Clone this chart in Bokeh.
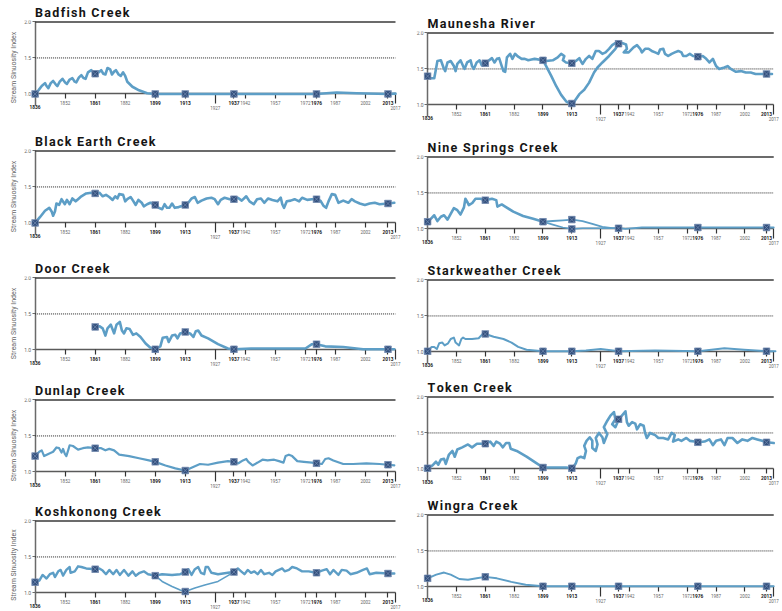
import numpy as np
from bokeh.plotting import figure
from bokeh.models import (Range1d, LinearAxis, FixedTicker, PrintfTickFormatter,
                          CustomJSTickFormatter, Spacer)
from bokeh.layouts import row, column
from bokeh.embed import file_html
from bokeh.resources import INLINE

# ---------------- axis definition (the chart's uneven year axis) ----------------
scale_years = [1836, 1852, 1861, 1882, 1899, 1913, 1927, 1937, 1942, 1957, 1972, 1976, 1987, 2002, 2013, 2017]
scale_steps = [0, 1, 2, 3, 4, 5, 6, 6.62, 7, 8, 9, 9.37, 10, 11, 11.75, 12]
survey_years = [1836, 1861, 1899, 1913, 1937, 1976, 2013]
plain_years = [1852, 1882, 1942, 1957, 1972, 1987, 2002]
low_years = [1927, 2017]
y_ticks = [1.0, 1.5, 2.0]
threshold = 1.5

# ---------------- survey values (1836,1861,1899,1913,1937,1976,2013) ----------------
nan = float("nan")
badfish_vals = [1.00, 1.28, 1.00, 1.00, 1.00, 1.00, 1.00]
blackearth_vals = [1.00, 1.41, 1.25, 1.25, 1.33, 1.33, 1.27]
door_vals = [nan, 1.32, 1.01, 1.25, 1.01, 1.08, 1.01]
dunlap_vals = [1.22, 1.33, 1.14, 1.02, 1.14, 1.12, 1.10]
koshkonong_vals = [1.15, 1.33, 1.24, 1.29, 1.29, 1.28, 1.27]
maunesha_vals = [1.40, 1.58, 1.62, 1.58, 1.85, 1.67, 1.43]
ninesprings_vals = [1.10, 1.40, 1.10, 1.13, 1.01, 1.02, 1.02]
starkweather_vals = [1.01, 1.25, 1.01, 1.01, 1.01, 1.01, 1.01]
token_vals = [1.01, 1.35, 1.02, 1.01, 1.69, 1.37, 1.37]
wingra_vals = [1.12, 1.14, 1.01, 1.01, 1.01, 1.01, 1.01]
# second reading in 1913 (alternative channel)
koshkonong_alt1913 = 1.02
maunesha_alt1913 = 1.02
ninesprings_alt1913 = 1.00

# ---------------- traced channel paths (x in axis steps, y = sinuosity index) ----------------
badfish_x = [0.00,0.11,0.22,0.33,0.38,0.44,0.52,0.60,0.69,0.74,0.82,0.91,1.00,1.06,1.15,1.24,1.32,1.37,1.46,1.54,
             1.61,1.68,1.76,1.87,2.00,2.12,2.20,2.27,2.34,2.41,2.50,2.56,2.63,2.69,2.78,2.85,2.93,3.00,3.07,3.24,
             3.46,3.73,4.00,5.00,6.62,9.36,10.04,10.70,11.75,12.00]
badfish_y = [1.00,1.05,1.11,1.15,1.11,1.08,1.15,1.18,1.13,1.11,1.17,1.21,1.16,1.14,1.20,1.22,1.17,1.16,1.23,1.26,
             1.22,1.21,1.30,1.33,1.28,1.30,1.33,1.28,1.27,1.36,1.34,1.27,1.31,1.33,1.27,1.25,1.30,1.25,1.17,1.10,
             1.05,1.01,1.00,1.00,1.00,1.00,1.02,1.01,1.00,1.005]

maunesha_x = [0,0.11,0.23,0.29,0.34,0.46,0.55,0.61,0.69,0.80,0.91,0.97,1.03,1.14,1.23,1.28,1.37,1.49,1.54,1.60,1.70,1.80,1.88,1.94,2.00,
              2.10,2.23,2.32,2.40,2.48,2.57,2.63,2.69,2.75,2.86,2.94,3.03,3.14,3.26,3.37,3.49,3.60,3.71,4.00,
              4.11,4.34,4.51,4.63,4.74,4.69,4.80,5.02,
              5.14,5.26,5.31,5.37,5.49,5.60,5.71,5.83,5.94,6.06,6.17,6.29,6.40,6.51,6.63,6.74,6.88,6.91,6.80,6.97,
              7.14,7.26,7.37,7.43,7.54,7.66,7.77,7.89,8.00,8.06,8.17,8.23,8.34,8.46,8.57,8.69,8.80,8.86,8.97,9.09,9.20,9.39,
              9.54,9.66,9.77,9.89,10.00,10.11,10.29,10.40,10.51,10.69,10.86,11.03,11.20,11.37,11.54,11.75,11.94]
maunesha_y = [1.40,1.37,1.37,1.50,1.61,1.62,1.52,1.47,1.59,1.61,1.54,1.47,1.57,1.62,1.54,1.50,1.59,1.62,1.54,1.50,1.59,1.62,1.55,1.55,1.58,
              1.61,1.65,1.59,1.64,1.65,1.54,1.47,1.46,1.66,1.71,1.64,1.71,1.67,1.64,1.64,1.62,1.63,1.64,1.62,
              1.61,1.62,1.66,1.71,1.68,1.62,1.59,1.58,
              1.61,1.65,1.61,1.57,1.64,1.68,1.64,1.75,1.75,1.71,1.73,1.78,1.83,1.86,1.85,1.86,1.84,1.78,1.73,1.73,
              1.80,1.83,1.78,1.73,1.78,1.78,1.75,1.73,1.71,1.77,1.78,1.71,1.68,1.71,1.73,1.75,1.73,1.68,1.68,1.71,1.68,1.67,
              1.68,1.64,1.59,1.64,1.54,1.50,1.52,1.54,1.50,1.46,1.47,1.45,1.45,1.43,1.43,1.43,1.43]
maunesha_v_x = [4.00,4.11,4.29,4.46,4.63,4.80,4.97,5.05,5.14,5.26,5.43,5.60,5.77,5.89,6.06,6.29,6.51,6.63]
maunesha_v_y = [1.62,1.54,1.40,1.26,1.14,1.05,1.01,1.02,1.08,1.15,1.21,1.31,1.45,1.52,1.59,1.68,1.78,1.85]

blackearth_x = [0,0.16,0.33,0.47,0.55,0.60,0.66,0.71,0.80,0.88,0.99,1.06,1.15,1.24,1.35,1.43,1.54,1.70,1.87,2.0,
                2.14,2.25,2.36,2.47,2.58,2.67,2.74,2.80,2.93,3.0,3.07,3.18,3.26,3.35,3.44,3.55,3.62,3.73,3.84,4.0,
                4.12,4.23,4.31,4.39,4.47,4.56,4.65,4.78,5.0,
                5.10,5.21,5.32,5.41,5.54,5.71,5.87,5.98,6.09,6.18,6.31,6.48,6.62,
                6.75,6.88,7.03,7.14,7.28,7.39,7.52,7.63,7.76,7.90,8.07,8.18,8.23,8.29,8.38,8.51,8.64,8.79,8.89,9.06,9.22,9.36,
                9.50,9.60,9.69,9.77,9.88,9.99,10.10,10.26,10.43,10.54,10.65,10.81,10.98,11.14,11.31,11.47,11.75,11.96]
blackearth_y = [1.00,1.08,1.17,1.21,1.16,1.10,1.16,1.27,1.25,1.33,1.26,1.32,1.26,1.34,1.30,1.33,1.37,1.41,1.42,1.41,
                1.42,1.37,1.39,1.36,1.32,1.37,1.34,1.40,1.39,1.30,1.33,1.36,1.31,1.25,1.32,1.28,1.23,1.26,1.28,1.25,
                1.21,1.19,1.26,1.21,1.21,1.27,1.21,1.22,1.25,
                1.28,1.34,1.36,1.28,1.31,1.34,1.35,1.33,1.26,1.32,1.35,1.33,1.33,
                1.35,1.31,1.37,1.30,1.26,1.33,1.34,1.28,1.34,1.32,1.30,1.35,1.26,1.21,1.30,1.31,1.33,1.30,1.35,1.32,1.33,1.33,
                1.31,1.24,1.21,1.30,1.40,1.39,1.28,1.31,1.28,1.33,1.30,1.27,1.25,1.27,1.28,1.26,1.27,1.28]

ninesprings_x = [0,0.11,0.23,0.34,0.46,0.57,0.69,0.80,0.91,1.03,1.14,1.26,1.31,1.37,1.43,1.55,1.66,1.83,2.0,2.23,
                 2.38,2.42,2.57,2.69,2.97,3.31,3.66,4.0]
ninesprings_y = [1.10,1.14,1.19,1.11,1.17,1.19,1.13,1.21,1.29,1.26,1.20,1.30,1.42,1.38,1.33,1.36,1.42,1.42,1.40,1.42,
                 1.40,1.31,1.34,1.31,1.24,1.18,1.14,1.10]
ninesprings_up_x = [4.0,4.34,4.69,5.02,5.37,5.71,6.06,6.40,6.63,6.86,7.43,8.0,9.39,11.75,12.0]
ninesprings_up_y = [1.10,1.11,1.12,1.13,1.11,1.07,1.03,1.01,1.01,1.00,1.02,1.02,1.02,1.02,1.02]
ninesprings_lo_x = [4.0,4.34,4.69,5.02,5.37,5.71,6.06,6.63]
ninesprings_lo_y = [1.10,1.06,1.02,1.00,1.01,1.01,1.01,1.01]

door_x = [2.0,2.14,2.25,2.34,2.41,2.52,2.63,2.71,2.82,2.89,2.96,3.04,3.15,3.26,3.37,3.51,3.68,3.84,4.0,
          4.17,4.25,4.39,4.45,4.56,4.67,4.74,4.83,5.0,
          5.16,5.27,5.35,5.43,5.54,5.76,6.09,6.42,6.62,7.19,7.96,9.0,9.22,9.36,9.66,10.26,10.92,11.75,11.96]
door_y = [1.32,1.33,1.30,1.20,1.30,1.35,1.23,1.35,1.39,1.27,1.23,1.30,1.29,1.21,1.23,1.18,1.09,1.03,1.01,
          1.05,1.17,1.18,1.11,1.20,1.21,1.16,1.23,1.25,
          1.23,1.18,1.26,1.27,1.20,1.16,1.08,1.02,1.01,1.02,1.02,1.02,1.08,1.08,1.05,1.04,1.01,1.01,1.01]

starkweather_x = [0,0.14,0.23,0.32,0.40,0.51,0.59,0.71,0.80,0.91,0.97,1.09,1.17,1.23,1.31,1.54,1.77,1.91,2.0,2.29,
                  2.63,2.91,3.14,3.43,4.0,5.02,5.49,6.0,6.63,7.89,9.39,10.29,10.97,11.75,12.06]
starkweather_y = [1.01,1.07,1.07,1.04,1.12,1.13,1.09,1.12,1.18,1.20,1.13,1.09,1.18,1.20,1.18,1.18,1.19,1.25,1.25,1.21,
                  1.18,1.13,1.07,1.03,1.01,1.01,1.02,1.04,1.01,1.02,1.01,1.05,1.03,1.01,1.01]

dunlap_x = [0,0.14,0.22,0.30,0.44,0.60,0.71,0.80,0.88,0.93,0.99,1.04,1.10,1.15,1.26,1.43,1.59,1.76,2.0,
            2.20,2.34,2.47,2.63,2.80,3.13,3.46,3.79,4.0,4.34,4.67,5.0,
            5.32,5.49,5.76,6.09,6.42,6.62,
            6.77,6.92,7.03,7.10,7.24,7.41,7.57,7.74,7.96,8.12,8.27,8.34,8.45,8.56,8.73,8.95,9.22,9.36,
            9.55,9.66,9.77,9.93,10.26,10.59,11.03,11.47,11.75,11.96]
dunlap_y = [1.22,1.28,1.30,1.22,1.25,1.28,1.34,1.33,1.27,1.32,1.25,1.22,1.30,1.37,1.36,1.31,1.33,1.34,1.33,
            1.33,1.30,1.32,1.30,1.24,1.22,1.19,1.16,1.14,1.09,1.05,1.02,
            1.08,1.11,1.10,1.13,1.15,1.14,
            1.12,1.16,1.18,1.14,1.09,1.13,1.17,1.16,1.17,1.15,1.13,1.22,1.24,1.22,1.15,1.14,1.13,1.12,
            1.11,1.18,1.19,1.16,1.11,1.11,1.12,1.11,1.10,1.09]

token_x = [0,0.17,0.29,0.37,0.46,0.57,0.63,0.74,0.86,0.94,1.03,1.20,1.40,1.54,1.71,2.0,
           2.17,2.29,2.38,2.51,2.61,2.72,2.83,2.88,3.09,3.43,3.77,4.0,4.46,4.80,5.02,
           5.14,5.20,5.31,5.43,5.49,5.43,5.51,5.62,5.71,5.71,5.83,5.89,5.83,5.94,6.06,6.11,6.23,6.11,6.23,6.34,6.46,6.51,6.40,6.51,6.63,
           6.86,6.91,6.97,7.09,7.20,7.26,7.37,7.49,7.54,7.60,7.71,7.89,8.0,8.17,8.34,8.46,8.57,8.51,8.69,8.80,8.97,9.09,9.26,9.39,
           9.60,9.77,9.89,10.0,10.17,10.29,10.40,10.57,10.74,10.91,11.09,11.26,11.43,11.60,11.75,12.0]
token_y = [1.01,1.05,1.10,1.06,1.13,1.14,1.07,1.20,1.25,1.17,1.27,1.30,1.34,1.30,1.35,1.35,
           1.38,1.32,1.38,1.35,1.30,1.36,1.36,1.28,1.25,1.17,1.08,1.02,1.02,1.02,1.01,
           1.08,1.15,1.17,1.15,1.25,1.32,1.39,1.44,1.39,1.29,1.25,1.34,1.43,1.50,1.44,1.36,1.48,1.58,1.67,1.74,1.79,1.69,1.62,1.58,1.69,
           1.80,1.65,1.60,1.65,1.63,1.55,1.62,1.60,1.50,1.43,1.50,1.47,1.43,1.43,1.41,1.50,1.47,1.38,1.41,1.39,1.43,1.39,1.38,1.37,
           1.38,1.41,1.33,1.39,1.41,1.33,1.43,1.43,1.36,1.41,1.39,1.43,1.41,1.39,1.37,1.36]

koshkonong_x = [0,0.14,0.25,0.33,0.38,0.49,0.60,0.66,0.77,0.85,0.93,1.04,1.15,1.18,1.32,1.43,1.54,1.70,2.0,
                2.14,2.25,2.36,2.47,2.60,2.71,2.82,2.96,3.11,3.24,3.35,3.48,3.62,3.76,4.0,
                4.23,4.56,4.83,5.0,
                5.10,5.21,5.32,5.43,5.52,5.63,5.68,5.76,5.87,6.09,6.42,6.62,
                6.75,6.86,6.97,7.08,7.19,7.30,7.41,7.52,7.63,7.79,7.90,8.01,8.12,8.23,8.31,8.45,8.56,8.72,8.89,9.11,9.36,
                9.55,9.71,9.82,9.93,10.10,10.21,10.37,10.50,10.70,10.92,11.05,11.14,11.36,11.75,11.96]
koshkonong_y = [1.15,1.17,1.25,1.22,1.20,1.26,1.28,1.22,1.30,1.32,1.24,1.32,1.36,1.28,1.30,1.37,1.36,1.34,1.33,
                1.34,1.31,1.26,1.32,1.26,1.32,1.25,1.32,1.24,1.30,1.24,1.28,1.30,1.26,1.24,
                1.26,1.25,1.26,1.29,
                1.33,1.25,1.33,1.36,1.28,1.26,1.36,1.36,1.28,1.26,1.28,1.29,
                1.34,1.30,1.26,1.32,1.28,1.30,1.26,1.32,1.26,1.28,1.25,1.30,1.32,1.34,1.30,1.32,1.36,1.34,1.30,1.30,1.28,
                1.31,1.33,1.26,1.32,1.25,1.32,1.31,1.26,1.28,1.32,1.34,1.26,1.28,1.27,1.27]
koshkonong_lo_x = [4.0,4.23,4.56,4.83,5.0,5.32,5.65,6.09,6.42,6.62]
koshkonong_lo_y = [1.24,1.16,1.09,1.04,1.02,1.07,1.11,1.16,1.24,1.29]

wingra_x = [0,0.3,0.57,0.8,1.1,1.4,1.7,2.0,2.4,2.9,3.4,4.0,5.0,6.63,9.39,11.75,12.0]
wingra_y = [1.12,1.17,1.20,1.17,1.11,1.10,1.12,1.14,1.12,1.07,1.03,1.01,1.01,1.01,1.01,1.01,1.01]

# ---------------- styling ----------------
LINE = "#5d9ec6"
MK_FILL = "#33507d"
MK_LINE = "#7088ad"
FONT = "Roboto"
X0, X1 = -0.42, 12.2
Y1 = 2.02
UNIT_PX = 72.0          # pixels per 1.0 of the index
AXIS_BOTTOM = 0.84
TOP = 20


def pos(years):
    return np.interp(years, scale_years, scale_steps)


def fmt(years):
    p = [float(v) for v in pos(years)]
    return CustomJSTickFormatter(args=dict(p=p, l=[str(y) for y in years]), code="""
        for (let i = 0; i < p.length; i++) { if (Math.abs(p[i] - tick) < 1e-6) return l[i]; }
        return '';""")


def xaxis(years, bold, tick_out, standoff, color, size, show_line=False, show_ticks=True):
    ax = LinearAxis(fixed_location=1.0, ticker=FixedTicker(ticks=[float(v) for v in pos(years)], minor_ticks=[]),
                    formatter=fmt(years), major_tick_out=tick_out, major_tick_in=0,
                    major_label_standoff=standoff, minor_tick_line_color=None,
                    major_label_text_font=FONT, major_label_text_font_size=size,
                    major_label_text_color=color,
                    major_label_text_font_style="bold" if bold else "normal",
                    major_tick_line_color="#333333" if show_ticks else None, major_tick_line_width=1.2,
                    bounds=(float(pos(scale_years[0])), float(pos(scale_years[-1]))))
    if show_line:
        ax.axis_line_color = "#5a5a5a"
        ax.axis_line_width = 1.6
    else:
        ax.axis_line_color = None
    ax.level = "underlay"
    return ax


def panel(name, paths, vals, alt, W, H, left, right, show_ylabel, frame_h=94):
    B = H - TOP - frame_h
    y0 = Y1 - frame_h / UNIT_PX
    frame_w = W - left - right
    p = figure(width=W, height=H, x_range=Range1d(X0, X1), y_range=Range1d(y0, Y1),
               output_backend="svg", toolbar_location=None, title="\u200a".join(list(name)),
               x_axis_type=None, y_axis_type=None,
               min_border_left=left, min_border_right=right, min_border_top=TOP, min_border_bottom=B)
    p.outline_line_color = None
    p.title.text_font = FONT
    p.title.text_font_size = "12.5px"
    p.title.text_font_style = "bold"
    p.title.text_color = "#151515"
    p.title.align = "left"
    p.title.standoff = 2
    p.title.offset = -X0 * frame_w / (X1 - X0)

    xa0, xa1 = float(pos(scale_years[0])), float(pos(scale_years[-1]))

    if show_ylabel:
        lab = LinearAxis(axis_label="Stream Sinuosity Index", axis_label_text_font=FONT,
                         axis_label_text_font_size="7px", axis_label_text_font_style="normal",
                         axis_label_text_color="#666666", axis_label_standoff=5,
                         bounds=(0.94, y_ticks[-1]),
                         ticker=FixedTicker(ticks=[], minor_ticks=[]), major_label_text_font_size="0px",
                         major_tick_out=0, major_tick_in=0, minor_tick_out=0, axis_line_color=None,
                         major_tick_line_color=None, minor_tick_line_color=None)
        p.add_layout(lab, "left")

    ya = LinearAxis(fixed_location=xa0, ticker=FixedTicker(ticks=y_ticks, minor_ticks=[]),
                    formatter=PrintfTickFormatter(format="%.1f"), bounds=(AXIS_BOTTOM, y_ticks[-1]),
                    major_tick_out=3, major_tick_in=0, major_label_standoff=1,
                    major_label_text_font=FONT, major_label_text_font_size="5px",
                    major_label_text_color="#666666", axis_line_color="#6a6a6a", axis_line_width=1.5,
                    major_tick_line_color="#6a6a6a", minor_tick_line_color=None)
    ya.level = "underlay"
    p.add_layout(ya, "left")
    p.add_layout(xaxis(survey_years[1:], True, 5, 2, "#222222", "4.8px", show_line=True), "below")
    p.add_layout(xaxis(plain_years, False, 5, 2, "#666666", "4.5px"), "below")
    p.add_layout(xaxis(low_years, False, 10, 2, "#666666", "4.5px"), "below")
    p.add_layout(xaxis(survey_years[:1], True, 0, 11, "#222222", "4.8px", show_ticks=False), "below")

    p.segment(x0=[xa0], y0=[y_ticks[-1]], x1=[xa1], y1=[y_ticks[-1]], line_color="#3a3a3a", line_width=1.6)
    p.segment(x0=[xa0], y0=[threshold], x1=[xa1], y1=[threshold], line_color="#222222",
              line_width=1, line_dash="1 1")

    for xs, ys, lw in paths:
        n = min(len(xs), len(ys))
        p.line(xs[:n], ys[:n], line_color=LINE, line_width=lw, line_join="round", line_cap="round")

    px = [float(v) for v in pos(survey_years)]
    p.scatter(px, vals, marker="square_x", size=6.5, fill_color=MK_FILL, line_color=MK_LINE, line_width=0.8)
    if alt is not None:
        p.scatter([float(pos([1913])[0])], [alt], marker="square_x", size=6.5,
                  fill_color=MK_FILL, line_color=MK_LINE, line_width=0.8)
    return p


W1, W2 = 405, 376
left_specs = [
    ("Badfish Creek", [(badfish_x, badfish_y, 2.6)], badfish_vals, None, 129, 94),
    ("Black Earth Creek", [(blackearth_x, blackearth_y, 2.6)], blackearth_vals, None, 127, 94),
    ("Door Creek", [(door_x, door_y, 2.6)], door_vals, None, 122, 94),
    ("Dunlap Creek", [(dunlap_x, dunlap_y, 2.2)], dunlap_vals, None, 121, 94),
    ("Koshkonong Creek", [(koshkonong_x, koshkonong_y, 2.4), (koshkonong_lo_x, koshkonong_lo_y, 1.6)],
     koshkonong_vals, koshkonong_alt1913, 111, 91),
]
right_specs = [
    ("Maunesha River", [(maunesha_x, maunesha_y, 2.6), (maunesha_v_x, maunesha_v_y, 2.6)],
     maunesha_vals, maunesha_alt1913, 124),
    ("Nine Springs Creek", [(ninesprings_x, ninesprings_y, 2.6), (ninesprings_up_x, ninesprings_up_y, 1.8),
                            (ninesprings_lo_x, ninesprings_lo_y, 1.6)],
     ninesprings_vals, ninesprings_alt1913, 123),
    ("Starkweather Creek", [(starkweather_x, starkweather_y, 2.0)], starkweather_vals, None, 117),
    ("Token Creek", [(token_x, token_y, 2.6)], token_vals, None, 118),
    ("Wingra Creek", [(wingra_x, wingra_y, 1.9)], wingra_vals, None, 117),
]

left_figs = [panel(n, pa, v, a, W1, h, 22, 4, True, fh) for (n, pa, v, a, h, fh) in left_specs]
right_figs = [panel(n, pa, v, a, W2, h, 10, 2, False) for (n, pa, v, a, h) in right_specs]

layout = row(column(*left_figs, spacing=0),
             column(Spacer(width=W2, height=11), *right_figs, spacing=0), spacing=0)
open("out.html", "w").write(file_html(layout, INLINE))
